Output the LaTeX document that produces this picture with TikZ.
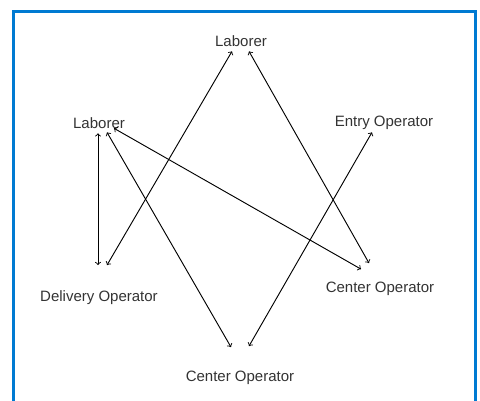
\documentclass[tikz,border=0pt]{standalone}
\usepackage{fontspec}
\setmainfont{Liberation Sans}
\definecolor{frameblue}{RGB}{0,122,210}
\tikzset{
	role/.style={font=\fontsize{11.25}{13.5}\selectfont, text=black!80, text height=8pt, text depth=2.5pt, inner sep=1pt},
	link/.style={<->, >=to, line width=0.7pt}
}
\begin{document}
\begin{tikzpicture}[x=0.75pt, y=-0.75pt]
		\useasboundingbox (0,0) rectangle (480,401);
		\draw[frameblue, line width=2.25pt] (14,405) -- (14,11.5) -- (476,11.5) -- (476,405);
		
		\node[role] (labtop) at (241, 42.7) {Laborer};
		\node[role] (lableft) at (99, 124.7) {Laborer};
		\node[role] (entry) at (384, 122.7) {Entry Operator};
		\node[role] (delivery) at (99, 297.7) {Delivery Operator};
		\node[role] (cenright) at (380, 288.7) {Center Operator};
		\node[role] (cenbot) at (240, 377.7) {Center Operator};
		
		\draw [link] ([xshift=-0.75pt]lableft.south) -- ([xshift=-0.75pt,yshift=18pt]delivery.north);
		\draw [link] ([xshift=6pt,yshift=18pt]delivery.north) -- ([xshift=-6.75pt]labtop.south);
		\draw [link] ([xshift=6pt,yshift=0.75pt]lableft.south) -- ([xshift=-6.75pt,yshift=16.5pt]cenbot.north);
		\draw [link] ([xshift=11.25pt,yshift=3.75pt]lableft.south) -- ([xshift=-14.25pt,yshift=8.25pt]cenright.north);
		\draw [link] ([xshift=6pt]labtop.south) -- ([xshift=-8.25pt,yshift=12.75pt]cenright.north);
		\draw [link] ([xshift=-9pt,yshift=-0.75pt]entry.south) -- ([xshift=6.75pt,yshift=17.25pt]cenbot.north);
\end{tikzpicture}
\end{document}
